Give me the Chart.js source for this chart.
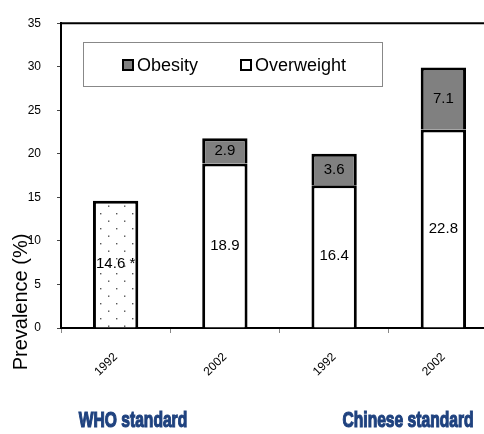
<!DOCTYPE html>
<html>
<head>
<meta charset="utf-8">
<script src="https://cdn.jsdelivr.net/npm/chart.js@4"></script>
<style>
  html, body { margin: 0; padding: 0; background: #fff; overflow: hidden; }
  #wrap { position: absolute; left: 0; top: 0; width: 498px; height: 434px; }
</style>
</head>
<body>
<div id="wrap"><canvas id="chart"></canvas></div>
<script>
// Data.
const categories = ['1992', '2002', '1992', '2002'];
const overweight = [14.6, 18.9, 16.4, 22.8];
const obesity = [null, 2.9, 3.6, 7.1];
const labelNotes = [' *', '', '', ''];
const groupLabels = ['WHO standard', 'Chinese standard'];
const yTicks = [0, 5, 10, 15, 20, 25, 30, 35];

// Dotted fill for the first bar.
function dotPattern() {
    const c = document.createElement('canvas');
    c.width = 16; c.height = 15;
    const g = c.getContext('2d');
    g.fillStyle = '#fff';
    g.fillRect(0, 0, 16, 15);
    g.fillStyle = '#555';
    g.fillRect(4, 3, 1.4, 1.4);
    g.fillRect(12, 10.5, 1.4, 1.4);
    return g.createPattern(c, 'repeat');
}

const overweightFill = overweight.map((v, i) => i === 0 ? dotPattern() : '#ffffff');

// Frame, value labels, legend box, axis title and group names.
const extras = {
    id: 'extras',
    afterDatasetsDraw(chart) {
        const ctx = chart.ctx;
        const area = chart.chartArea;
        ctx.save();
        ctx.strokeStyle = '#000';
        ctx.lineWidth = 2;
        ctx.beginPath();
        ctx.moveTo(area.left - 1, area.top);
        ctx.lineTo(area.right, area.top);
        ctx.stroke();

        // value labels centred in each segment
        ctx.font = '15px "Liberation Sans", Arial, sans-serif';
        ctx.fillStyle = '#000';
        ctx.textAlign = 'center';
        ctx.textBaseline = 'middle';
        chart.data.datasets.forEach((ds, di) => {
            chart.getDatasetMeta(di).data.forEach((bar, i) => {
                const v = ds.data[i];
                if (v == null) return;
                const note = di === 0 ? labelNotes[i] : '';
                ctx.fillText(v.toFixed(1) + note, bar.x, (bar.y + bar.base) / 2);
            });
        });

        // legend box inside the plot
        ctx.strokeStyle = '#888';
        ctx.lineWidth = 1;
        ctx.strokeRect(83.5, 42.5, 299, 44);
        ctx.font = '18px "Liberation Sans", Arial, sans-serif';
        ctx.textAlign = 'left';
        const items = [
            { text: chart.data.datasets[1].label, fill: '#808080', x: 123 },
            { text: chart.data.datasets[0].label, fill: '#ffffff', x: 241 }
        ];
        items.forEach(it => {
            ctx.fillStyle = it.fill;
            ctx.fillRect(it.x, 60, 10, 10);
            ctx.strokeStyle = '#000';
            ctx.lineWidth = 2;
            ctx.strokeRect(it.x, 60, 10, 10);
            ctx.fillStyle = '#000';
            ctx.fillText(it.text, it.x + 14, 66);
        });

        // y axis title
        ctx.save();
        ctx.translate(21, 302);
        ctx.rotate(-Math.PI / 2);
        ctx.textAlign = 'center';
        ctx.font = '20px "Liberation Sans", Arial, sans-serif';
        ctx.fillText('Prevalence (%)', 0, 0);
        ctx.restore();

        // group names under the axis
        ctx.fillStyle = '#1f427f';
        ctx.strokeStyle = '#1f427f';
        ctx.lineWidth = 1.2;
        ctx.font = 'bold 22px "Liberation Sans Narrow", "Liberation Sans", sans-serif';
        ctx.textAlign = 'center';
        [[133, groupLabels[0]], [408, groupLabels[1]]].forEach(([x, t]) => {
            ctx.save();
            ctx.translate(x, 421);
            ctx.scale(0.71, 1);
            ctx.fillText(t, 0, 0);
            ctx.strokeText(t, 0, 0);
            ctx.restore();
        });
        ctx.restore();
    }
};

new Chart(document.getElementById('chart'), {
    type: 'bar',
    data: {
        labels: categories,
        datasets: [
            { label: 'Overweight', data: overweight, backgroundColor: overweightFill, borderColor: '#000', borderWidth: 3 },
            { label: 'Obesity', data: obesity, backgroundColor: '#808080', borderColor: '#000', borderWidth: 3 }
        ]
    },
    options: {
        responsive: true,
        maintainAspectRatio: false,
        animation: false,
        devicePixelRatio: 1,
        layout: { padding: { top: 20, left: 0, right: 0, bottom: 0 } },
        plugins: { legend: { display: false }, tooltip: { enabled: false } },
        datasets: { bar: { barPercentage: 0.415, categoryPercentage: 1 } },
        scales: {
            x: {
                stacked: true,
                border: { color: '#000', width: 2 },
                grid: { offset: true, drawOnChartArea: false, tickLength: 5, color: '#888' },
                ticks: {
                    color: '#000', maxRotation: 45, minRotation: 45, padding: 17,
                    font: { family: '"Liberation Sans", Arial, sans-serif', size: 12 }
                },
                afterFit: s => { s.height = 106; }
            },
            y: {
                stacked: true,
                min: 0, max: 35,
                border: { color: '#000', width: 2 },
                grid: { drawOnChartArea: false, tickLength: 4, color: '#444' },
                afterBuildTicks: s => { s.ticks = yTicks.map(v => ({ value: v })); },
                ticks: {
                    color: '#000', padding: 16,
                    font: { family: '"Liberation Sans", Arial, sans-serif', size: 12 }
                },
                afterFit: s => { s.width = 61; }
            }
        }
    },
    plugins: [extras]
});
</script>
</body>
</html>
